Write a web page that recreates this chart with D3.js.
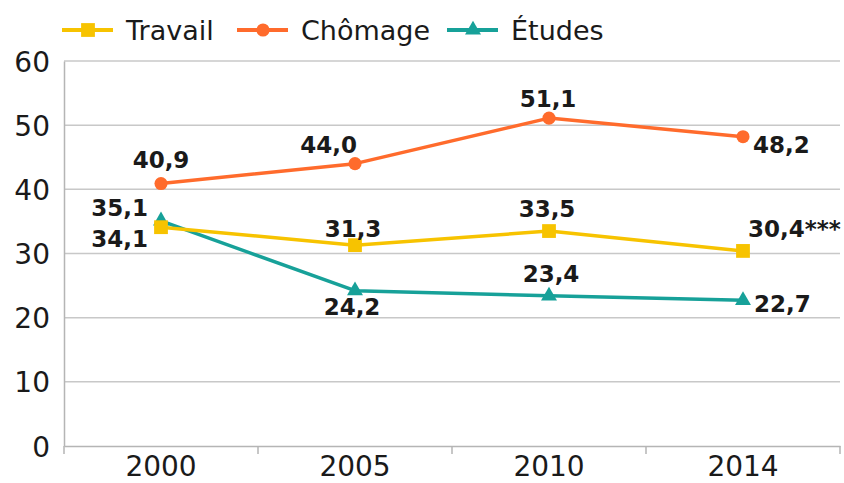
<!DOCTYPE html>
<html>
<head>
<meta charset="utf-8">
<script src="https://cdn.jsdelivr.net/npm/d3@7"></script>
<style>
  html, body { margin: 0; padding: 0; background: #ffffff; }
  svg { display: block; }
</style>
</head>
<body>
<svg id="chart" width="844" height="483"></svg>
<script>
// ---- Data ----
const categories = ["2000", "2005", "2010", "2014"];
const seriesNames = ["Travail", "Chômage", "Études"];
const travail = [34.1, 31.3, 33.5, 30.4];
const chomage = [40.9, 44.0, 51.1, 48.2];
const etudes = [35.1, 24.2, 23.4, 22.7];
const travailLabels = ["34,1", "31,3", "33,5", "30,4***"];
const chomageLabels = ["40,9", "44,0", "51,1", "48,2"];
const etudesLabels = ["35,1", "24,2", "23,4", "22,7"];
const yTicks = [0, 10, 20, 30, 40, 50, 60];

// ---- Layout / style ----
const plotLeft = 64, plotRight = 840, plotTop = 61, plotBottom = 446;
const FONT = "'DejaVu Sans', sans-serif";
const textColor = "#1a1a1a";

const styles = {
  "Travail": { color: "#f7c300", symbol: d3.symbolSquare, size: 190 },
  "Chômage": { color: "#ff6b2c", symbol: d3.symbolCircle, size: 135 },
  "Études":  { color: "#17a199", symbol: d3.symbolTriangle, size: 110 }
};

// label offsets [dx, dy, anchor] per point
const labelPos = {
  "Travail": [[-13, 20, "end"], [-2, -8, "middle"], [-2, -14, "middle"], [5, -14, "start"]],
  "Chômage": [[0, -16, "middle"], [2, -11, "end"], [-1, -11, "middle"], [10, 16, "start"]],
  "Études":  [[-13, -5, "end"], [-3, 24, "middle"], [2, -14, "middle"], [11, 12, "start"]]
};

const series = [
  { name: "Études", values: etudes, labels: etudesLabels },
  { name: "Travail", values: travail, labels: travailLabels },
  { name: "Chômage", values: chomage, labels: chomageLabels }
];

const svg = d3.select("#chart");

const x = d3.scaleBand().domain(categories).range([plotLeft, plotRight]).padding(0);
const y = d3.scaleLinear().domain([0, 60]).range([plotBottom, plotTop]);

// gridlines
svg.append("g")
  .selectAll("line")
  .data(yTicks.filter(d => d > 0))
  .join("line")
  .attr("x1", plotLeft).attr("x2", plotRight)
  .attr("y1", d => y(d)).attr("y2", d => y(d))
  .attr("stroke", "#c8c8c8").attr("stroke-width", 1.5);

// y axis
const yAxis = svg.append("g")
  .attr("transform", `translate(${plotLeft},0)`)
  .call(d3.axisLeft(y).tickValues(yTicks).tickSize(0).tickPadding(14));
yAxis.select(".domain").attr("stroke", "#b5b5b5").attr("stroke-width", 1.5);
yAxis.selectAll("text")
  .attr("font-family", FONT).attr("font-size", 28).attr("fill", textColor)
  .attr("dy", "0.36em");

// x axis
const xAxis = svg.append("g")
  .attr("transform", `translate(0,${plotBottom})`)
  .call(d3.axisBottom(x).tickSize(0).tickPadding(10));
xAxis.select(".domain").attr("stroke", "#b5b5b5").attr("stroke-width", 1.5);
xAxis.selectAll("text")
  .attr("font-family", FONT).attr("font-size", 28).attr("fill", textColor)
  .attr("dy", "0.72em");
// boundary ticks
const boundaries = categories.map(c => x(c)).concat([x(categories[categories.length - 1]) + x.bandwidth()]);
xAxis.append("g").selectAll("line")
  .data(boundaries)
  .join("line")
  .attr("x1", d => d).attr("x2", d => d)
  .attr("y1", 0).attr("y2", 8)
  .attr("stroke", "#b5b5b5").attr("stroke-width", 1.5);

const cx = c => x(c) + x.bandwidth() / 2;

const line = d3.line()
  .x((d, i) => cx(categories[i]))
  .y(d => y(d));

// lines and markers
series.forEach(s => {
  const st = styles[s.name];
  svg.append("path")
    .datum(s.values)
    .attr("d", line)
    .attr("fill", "none")
    .attr("stroke", st.color)
    .attr("stroke-width", 3.5)
    .attr("stroke-linejoin", "round");
});
series.forEach(s => {
  const st = styles[s.name];
  svg.append("g").selectAll("path")
    .data(s.values)
    .join("path")
    .attr("d", d3.symbol().type(st.symbol).size(st.size))
    .attr("transform", (d, i) => `translate(${cx(categories[i])},${y(d)})`)
    .attr("fill", st.color);
});

// data labels
series.forEach(s => {
  svg.append("g").selectAll("text")
    .data(s.values)
    .join("text")
    .attr("x", (d, i) => cx(categories[i]) + labelPos[s.name][i][0])
    .attr("y", (d, i) => y(d) + labelPos[s.name][i][1])
    .attr("text-anchor", (d, i) => labelPos[s.name][i][2])
    .attr("font-family", FONT)
    .attr("font-size", 23)
    .attr("font-weight", "bold")
    .attr("fill", textColor)
    .text((d, i) => s.labels[i]);
});

// legend
const legendX = [62, 237, 447];
const legend = svg.append("g");
seriesNames.forEach((name, i) => {
  const st = styles[name];
  const g = legend.append("g").attr("transform", `translate(${legendX[i]},30)`);
  g.append("line").attr("x1", 0).attr("x2", 51).attr("y1", 0).attr("y2", 0)
    .attr("stroke", st.color).attr("stroke-width", 4);
  g.append("path")
    .attr("d", d3.symbol().type(st.symbol).size(st.size))
    .attr("transform", "translate(26,0)")
    .attr("fill", st.color);
  g.append("text")
    .attr("x", 64).attr("y", 10)
    .attr("font-family", FONT).attr("font-size", 27)
    .attr("fill", textColor)
    .text(name);
});
</script>
</body>
</html>
